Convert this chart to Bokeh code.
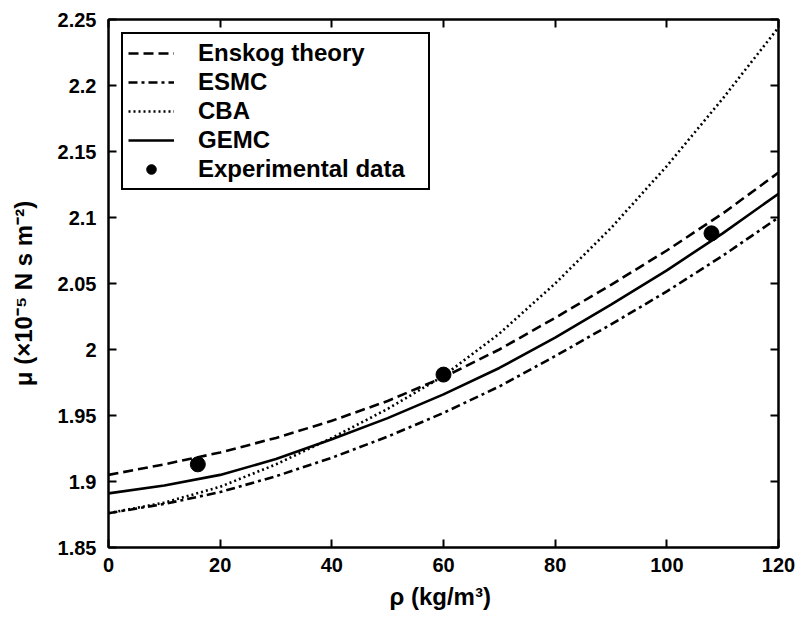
from bokeh.plotting import figure
from bokeh.models import Range1d, FixedTicker, LinearAxis, Legend, LegendItem, CustomJSTickFormatter
from bokeh.embed import file_html
from bokeh.resources import INLINE

rho = [0, 10, 20, 30, 40, 50, 60, 70, 80, 90, 100, 110, 120]
enskog = [1.905, 1.913, 1.922, 1.933, 1.946, 1.961, 1.979, 2.000, 2.024, 2.049, 2.075, 2.103, 2.134]
esmc = [1.876, 1.883, 1.892, 1.904, 1.918, 1.934, 1.952, 1.972, 1.995, 2.019, 2.044, 2.071, 2.100]
cba = [1.876, 1.884, 1.896, 1.913, 1.933, 1.955, 1.980, 2.012, 2.050, 2.092, 2.139, 2.190, 2.244]
gemc = [1.891, 1.897, 1.905, 1.917, 1.932, 1.948, 1.966, 1.986, 2.009, 2.034, 2.060, 2.088, 2.118]
exp_rho = [16, 60, 108]
exp_mu = [1.913, 1.981, 2.088]

x_ticks = [0, 20, 40, 60, 80, 100, 120]
y_ticks = [1.85, 1.9, 1.95, 2.0, 2.05, 2.1, 2.15, 2.2, 2.25]

FONT = "Liberation Sans"

p = figure(width=796, height=620, output_backend="svg", toolbar_location=None,
           x_range=Range1d(0, 120), y_range=Range1d(1.85, 2.25),
           min_border_left=108, min_border_right=18, min_border_top=19, min_border_bottom=73)
p.xgrid.visible = False
p.ygrid.visible = False
p.outline_line_color = "black"
p.outline_line_width = 2
p.background_fill_color = "white"
p.border_fill_color = "white"

lw = 2.6
r1 = p.line(rho, enskog, line_color="black", line_width=lw, line_dash="10 5")
r2 = p.line(rho, esmc, line_color="black", line_width=lw, line_dash="9 4 3 4")
r3 = p.line(rho, cba, line_color="black", line_width=lw, line_dash="2 3")
r4 = p.line(rho, gemc, line_color="black", line_width=lw)
r5 = p.scatter(exp_rho, exp_mu, size=15, fill_color="black", line_color="black")

fmt = CustomJSTickFormatter(code="return String(Math.round(tick*100)/100);")

for ax in p.xaxis:
    ax.ticker = FixedTicker(ticks=x_ticks)
for ax in p.yaxis:
    ax.ticker = FixedTicker(ticks=y_ticks)
    ax.formatter = fmt

def style(ax, labels=True):
    ax.axis_line_width = 2
    ax.axis_line_color = "black"
    ax.major_tick_in = 8
    ax.major_tick_out = 0
    ax.major_tick_line_width = 2
    ax.minor_tick_line_color = None
    ax.major_label_text_font = FONT
    ax.major_label_text_font_style = "bold"
    ax.major_label_text_font_size = "20px"
    ax.major_label_text_color = "black" if labels else None
    ax.major_label_standoff = 10
    ax.axis_label_text_font = FONT
    ax.axis_label_text_font_style = "bold"
    ax.axis_label_text_font_size = "24px"
    ax.axis_label_text_color = "black"

style(p.xaxis[0])
style(p.yaxis[0])
p.yaxis[0].major_label_standoff = 12
p.xaxis[0].axis_label = "ρ  (kg/m³)"
p.yaxis[0].axis_label = "μ    (×10⁻⁵ N s m⁻²)"
p.xaxis[0].axis_label_standoff = 8
p.yaxis[0].axis_label_standoff = 18

top = LinearAxis(ticker=FixedTicker(ticks=x_ticks))
right = LinearAxis(ticker=FixedTicker(ticks=y_ticks))
style(top, labels=False)
style(right, labels=False)
top.major_label_text_font_size = "0px"
right.major_label_text_font_size = "0px"
top.major_label_standoff = 0
right.major_label_standoff = 0
p.add_layout(top, "above")
p.add_layout(right, "right")

legend = Legend(items=[
    LegendItem(label="Enskog theory", renderers=[r1]),
    LegendItem(label="ESMC", renderers=[r2]),
    LegendItem(label="CBA", renderers=[r3]),
    LegendItem(label="GEMC", renderers=[r4]),
    LegendItem(label="Experimental data", renderers=[r5]),
], location="top_left")
legend.label_text_font = FONT
legend.label_text_font_style = "bold"
legend.label_text_font_size = "24px"
legend.label_text_color = "black"
legend.border_line_color = "black"
legend.border_line_alpha = 1
legend.border_line_width = 2
legend.glyph_width = 46
legend.glyph_height = 24
legend.label_height = 24
legend.label_width = 225
legend.spacing = 1
legend.padding = 5
legend.margin = 13
legend.label_standoff = 24
legend.background_fill_alpha = 1
p.add_layout(legend)

open("out.html", "w").write(file_html(p, INLINE))
